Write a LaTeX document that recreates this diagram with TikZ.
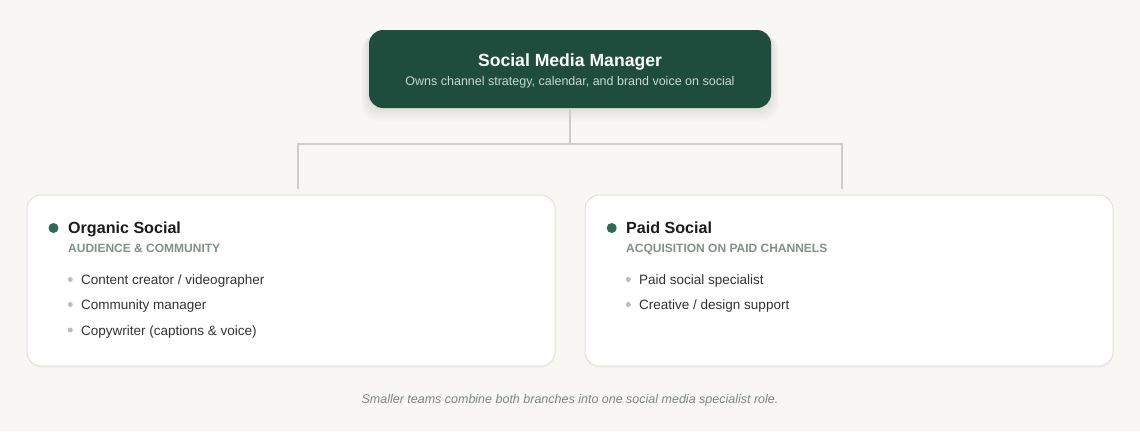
\documentclass[tikz,border=0pt]{standalone}
\usepackage{fontspec}
\setmainfont{Liberation Sans}
\definecolor{bg}{HTML}{F8F7F3}
\definecolor{mgrfill}{HTML}{1F4D3D}
\definecolor{mgrsub}{HTML}{C8D8CE}
\definecolor{cardborder}{HTML}{E2E2DC}
\definecolor{linec}{HTML}{C9CEC8}
\definecolor{dotc}{HTML}{2F6A55}
\definecolor{subc}{HTML}{7E9387}
\definecolor{itemc}{HTML}{333333}
\definecolor{bulletc}{HTML}{BDBDBD}
\definecolor{titlec}{HTML}{1C1C1C}
\definecolor{footc}{HTML}{7D8680}
\tikzset{
  mgrbox/.style={fill=mgrfill, rounded corners=14pt, minimum width=402pt, minimum height=78pt, inner sep=0pt},
  card/.style={fill=white, draw=cardborder, line width=1pt, rounded corners=14pt, minimum width=528pt, minimum height=171pt, inner sep=0pt},
  conn/.style={draw=linec, line width=2pt},
  txt/.style={inner sep=0pt, anchor=base west},
  ctitle/.style={txt, font=\bfseries\fontsize{16.1}{20}\selectfont, text=titlec},
  csub/.style={txt, font=\bfseries\fontsize{12}{14}\selectfont, text=subc},
  citem/.style={txt, font=\fontsize{13.5}{16}\selectfont, text=itemc},
  bigdot/.style={circle, fill=dotc, minimum size=10pt, inner sep=0pt},
  smalldot/.style={circle, fill=bulletc, minimum size=5pt, inner sep=0pt},
}
\begin{document}
\begin{tikzpicture}[x=1pt,y=-1pt]
\fill[bg] (0,0) rectangle (1140,431);
\useasboundingbox (0,0) rectangle (1140,431);
% shadow of manager box
\foreach \i in {1,...,8}{
  \fill[black, opacity=0.012, rounded corners=16pt] (369-\i,30+\i*0.6) rectangle (771+\i,108+\i*1.6);
}
\node[mgrbox] (mgr) at (570,69) {};
\node[inner sep=0pt, anchor=base, text=white, font=\bfseries\fontsize{17.6}{22}\selectfont] (mgrt) at (570,66.5) {Social Media Manager};
\node[inner sep=0pt, anchor=base, text=mgrsub, font=\fontsize{12.5}{15}\selectfont] (mgrs) at (570,85.5) {Owns channel strategy, calendar, and brand voice on social};
% cards (faint shadow)
\fill[black, opacity=0.02, rounded corners=14pt] (27,197) rectangle (555,368);
\fill[black, opacity=0.02, rounded corners=14pt] (585,197) rectangle (1113,368);
\node[card] (orgcard) at (291,280.5) {};
\node[card] (paidcard) at (849,280.5) {};
% connectors
\coordinate (j) at (570,144);
\coordinate (oL) at (298,189);
\coordinate (oR) at (842,189);
\draw[conn] (mgr.south) -- (j);
\draw[conn] (oL) |- (j) -| (oR);
% organic
\node[bigdot] (orgdot) at (53.5,228) {};
\node[ctitle] (orgt) at (68,233) {Organic Social};
\node[csub] (orgs) at (68,252.5) {AUDIENCE \& COMMUNITY};
\node[smalldot] (ob1) at (70.3,279.5) {};
\node[citem] (oi1) at (81,284.5) {Content creator / videographer};
\node[smalldot] (ob2) at (70.3,304.5) {};
\node[citem] (oi2) at (81,309.5) {Community manager};
\node[smalldot] (ob3) at (70.3,330) {};
\node[citem] (oi3) at (81,335) {Copywriter (captions \& voice)};
% paid
\node[bigdot] (paiddot) at (611.7,228) {};
\node[ctitle] (paidt) at (626,233) {Paid Social};
\node[csub] (paids) at (626,252.5) {ACQUISITION ON PAID CHANNELS};
\node[smalldot] (pb1) at (628.3,279.5) {};
\node[citem] (pi1) at (639,284.5) {Paid social specialist};
\node[smalldot] (pb2) at (628.3,304.5) {};
\node[citem] (pi2) at (639,309.5) {Creative / design support};
% footer
\node[inner sep=0pt, anchor=base, text=footc, font=\itshape\fontsize{12.5}{15}\selectfont] (foot) at (570,403) {Smaller teams combine both branches into one social media specialist role.};
\end{tikzpicture}
\end{document}
